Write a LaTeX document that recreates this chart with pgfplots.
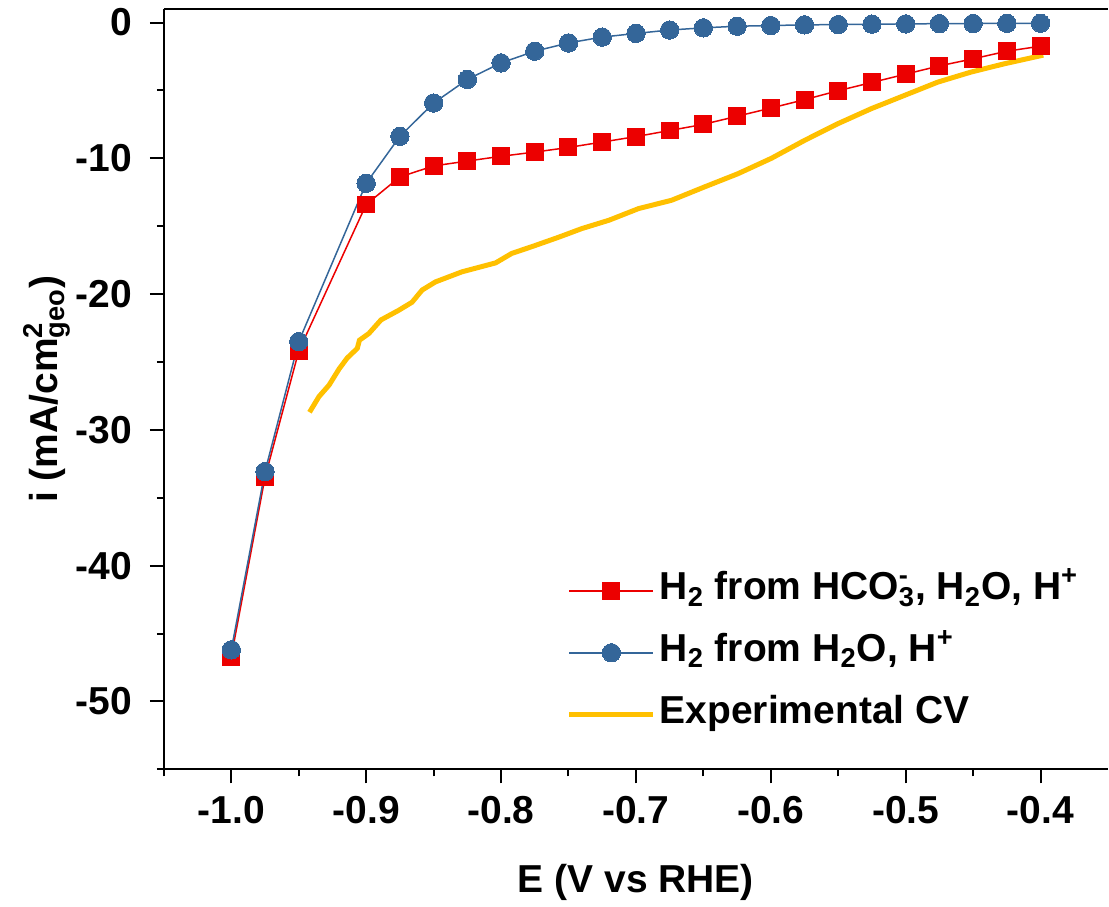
\documentclass[border=0pt]{standalone}
\usepackage{fontspec}
\setmainfont{Liberation Sans}
\usepackage{pgfplots}
\pgfplotsset{compat=1.18}
\definecolor{myred}{RGB}{236,0,0}
\definecolor{myblue}{RGB}{52,102,153}
\definecolor{myyellow}{RGB}{255,192,0}
\newcommand{\lfont}{\bfseries\fontsize{19.5}{23}\selectfont}
\begin{document}
\begin{tikzpicture}
\begin{axis}[
 scale only axis, width=472.5pt, height=380.5pt,
 xmin=-1.05, xmax=-0.35, ymin=-55, ymax=1,
 axis x line=box, axis y line=left,
 axis line style={line width=1pt,-},
 xtick pos=left, ytick pos=left,
 tick align=outside,
 major tick length=7pt, minor tick length=3.5pt,
 tick style={black, line width=1pt},
 xtick={-1,-0.9,-0.8,-0.7,-0.6,-0.5,-0.4},
 xticklabels={-1.0,-0.9,-0.8,-0.7,-0.6,-0.5,-0.4},
 minor xtick={-1.05,-0.95,-0.85,-0.75,-0.65,-0.55,-0.45},
 ytick={0,-10,-20,-30,-40,-50},
 yticklabels={0,-10,-20,-30,-40,-50},
 minor ytick={-5,-15,-25,-35,-45,-55},
 ticklabel style={font=\lfont},
 xticklabel style={yshift=-3pt},
 yticklabel style={xshift=-5.5pt},
 label style={font=\lfont},
 xlabel={E (V vs RHE)},
 ylabel={i (mA/cm\rlap{\textsuperscript{2}}\textsubscript{geo})},
 xlabel style={at={(axis description cs:0.5,-0.1616)}, anchor=base},
 ylabel style={at={(axis description cs:-0.1122,0.5)}, anchor=base},
 legend style={draw=none, fill=none, at={(axis description cs:0.4265,0.276)}, anchor=north west, inner sep=0pt, font=\lfont, row sep=0pt, nodes={text height=14pt, text depth=5pt, inner ysep=6pt}},
 legend cell align=left,
 legend image code/.code={\draw[mark repeat=2,mark phase=2,#1] plot coordinates {(0pt,0pt) (21pt,0pt) (42pt,0pt)};},
]
\addplot[color=myred, line width=0.75pt, mark=square*, mark size=4.25pt, mark options={solid, fill=myred, draw=myred, line width=0pt}] coordinates {
(-1.0,-46.7) (-0.975,-33.5) (-0.95,-24.2) (-0.9,-13.4) (-0.875,-11.37) (-0.85,-10.56) (-0.825,-10.2) (-0.8,-9.85) (-0.775,-9.54) (-0.75,-9.2) (-0.725,-8.8) (-0.7,-8.4) (-0.675,-7.95) (-0.65,-7.5) (-0.625,-6.9) (-0.6,-6.3) (-0.575,-5.68) (-0.55,-5.02) (-0.525,-4.41) (-0.5,-3.8) (-0.475,-3.19) (-0.45,-2.67) (-0.425,-2.11) (-0.4,-1.74)
};
\addlegendentry{H\textsubscript{2} from HCO\rlap{\textsuperscript{-}}\textsubscript{3}, H\textsubscript{2}O, H\textsuperscript{+}}
\addplot[color=myblue, line width=0.75pt, mark=*, mark size=4.6pt, mark options={solid, fill=myblue, draw=myblue, line width=0pt}] coordinates {
(-1.0,-46.2) (-0.975,-33.07) (-0.95,-23.5) (-0.9,-11.84) (-0.875,-8.38) (-0.85,-5.93) (-0.825,-4.19) (-0.8,-2.97) (-0.775,-2.11) (-0.75,-1.5) (-0.725,-1.07) (-0.7,-0.8) (-0.675,-0.55) (-0.65,-0.39) (-0.625,-0.27) (-0.6,-0.22) (-0.575,-0.17) (-0.55,-0.15) (-0.525,-0.12) (-0.5,-0.1) (-0.475,-0.08) (-0.45,-0.07) (-0.425,-0.06) (-0.4,-0.05)
};
\addlegendentry{H\textsubscript{2} from H\textsubscript{2}O, H\textsuperscript{+}}
\addplot[color=myyellow, line width=2.5pt, no marks] coordinates {
(-0.942,-28.7) (-0.935,-27.55) (-0.9275,-26.7) (-0.920,-25.5) (-0.914,-24.7) (-0.9066,-24.0) (-0.905,-23.4) (-0.898,-22.9) (-0.889,-21.9) (-0.876,-21.2) (-0.866,-20.6) (-0.8585,-19.7) (-0.8486,-19.1) (-0.829,-18.36) (-0.804,-17.7) (-0.792,-17.0) (-0.777,-16.5) (-0.757,-15.8) (-0.740,-15.17) (-0.720,-14.56) (-0.698,-13.7) (-0.6736,-13.09) (-0.649,-12.1) (-0.6243,-11.13) (-0.5996,-10.0) (-0.575,-8.68) (-0.5503,-7.45) (-0.5257,-6.35) (-0.501,-5.37) (-0.4763,-4.39) (-0.4517,-3.65) (-0.427,-3.04) (-0.398,-2.4)
};
\addlegendentry{Experimental CV}
\end{axis}
\path ([xshift=-82pt,yshift=-66.5pt]current axis.south west) rectangle ([yshift=4.5pt]current axis.north east);
\end{tikzpicture}
\end{document}
